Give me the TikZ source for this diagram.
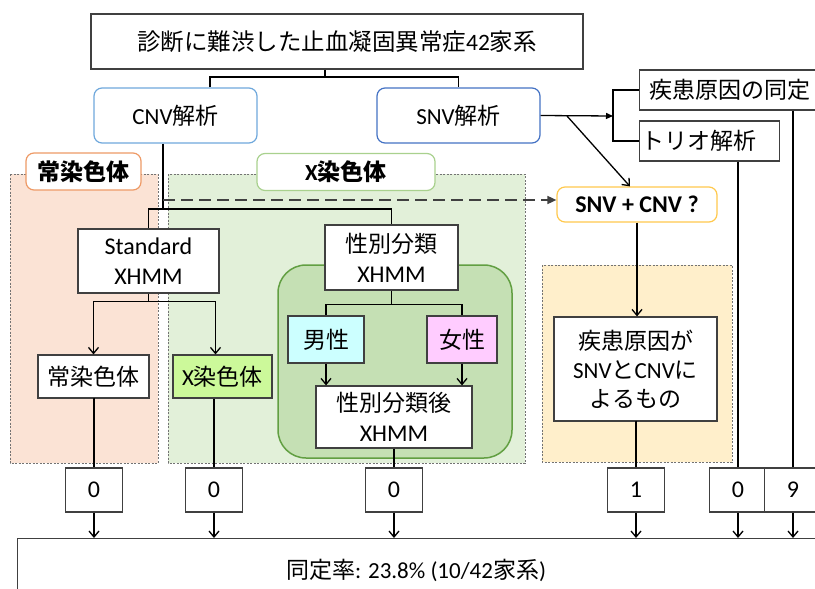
\documentclass[tikz,border=0pt]{standalone}
\usepackage{fontspec}
\setmainfont{Noto Sans CJK JP}
\newfontfamily\latf{Carlito}
\usetikzlibrary{arrows.meta,calc}
\definecolor{boxc}{HTML}{404040}
\definecolor{autofill}{HTML}{FBE3D5}
\definecolor{autoline}{HTML}{EE9A66}
\definecolor{xfill}{HTML}{E2F0D9}
\definecolor{xline}{HTML}{A9D18E}
\definecolor{greenfill}{HTML}{C5E0B4}
\definecolor{greenline}{HTML}{629F42}
\definecolor{yelfill}{HTML}{FFEFCB}
\definecolor{yelline}{HTML}{FFC94D}
\definecolor{cnvline}{HTML}{6FA8DC}
\definecolor{snvline}{HTML}{4472C4}
\definecolor{xinfill}{HTML}{CCF99A}
\definecolor{malefill}{HTML}{CCFFFF}
\definecolor{femfill}{HTML}{FFCCFF}
\newcommand{\fsz}{\fontsize{23}{30}\selectfont}
\begin{document}
\begin{tikzpicture}[x=1pt,y=-1pt,
  box/.style={draw=boxc, line width=1.2pt, fill=white, inner sep=0pt, align=center, font=\fsz},
  rbox/.style={box, rounded corners=8pt},
  region/.style={draw=black!55, line width=0.8pt, dash pattern=on 2pt off 1.5pt},
  conn/.style={draw=black, line width=1.3pt},
  barb/.style={conn, -{Straight Barb[length=6pt,width=10pt,line width=1.3pt]}},
  tri/.style={conn, -{Triangle[length=7pt,width=6pt]}},
  dasharr/.style={draw=boxc, line width=1.6pt, dash pattern=on 12pt off 6pt, -{Triangle[length=9pt,width=8pt]}},
  numbox/.style={box, minimum width=57pt, minimum height=44pt, font=\fontsize{24}{28}\selectfont\latf},
]
\useasboundingbox (0,0) rectangle (815,589);
\clip (0,0) rectangle (815,589);
\fill[white] (0,0) rectangle (815,589);

% background regions
\filldraw[region, fill=autofill] (10,174) rectangle (158,463);
\filldraw[region, fill=xfill] (168,174) rectangle (525,463);
\filldraw[region, fill=yelfill] (542,265) rectangle (732,462);
\filldraw[draw=greenline, line width=1.5pt, fill=greenfill, rounded corners=28pt] (278,265) rectangle (512,458);

% region labels
\node[rbox, draw=autoline, minimum width=115pt, minimum height=37pt, font=\fsz\bfseries] (autolab) at (83.5,171.5) {常染色体};
\node[rbox, draw=xline, minimum width=178pt, minimum height=37pt, font=\fsz\bfseries] (xlab) at (346,172) {{\latf X}染色体};

% nodes
\node[box, minimum width=492pt, minimum height=55pt, font=\fontsize{23.5}{28}\selectfont] (top) at (337,41.5) {診断に難渋した止血凝固異常症{\latf 42}家系};
\node[rbox, draw=cnvline, minimum width=163pt, minimum height=55pt] (cnv) at (175.5,115.5) {{\fontsize{23}{26}\selectfont\latf CNV}解析};
\node[rbox, draw=snvline, minimum width=163pt, minimum height=55pt] (snv) at (458.5,115.5) {{\fontsize{23}{26}\selectfont\latf SNV}解析};
\node[box, anchor=west, minimum width=270pt, minimum height=40pt, text width=250pt, align=left, inner xsep=10pt] (cause) at (639,90) {疾患原因の同定};
\node[box, anchor=west, minimum width=140pt, minimum height=40pt, text width=136pt, align=left, inner xsep=2pt] (trio) at (639,141) {トリオ解析};
\node[rbox, draw=yelline, line width=1.2pt, minimum width=160pt, minimum height=35pt, font=\fontsize{24}{28}\selectfont\latf\bfseries] (snvcnv) at (637,204.5) {SNV + CNV ?};

\node[box, minimum width=141pt, minimum height=64pt, font=\fontsize{24}{30}\selectfont\latf] (std) at (148.5,261) {Standard\\XHMM};
\node[box, minimum width=133pt, minimum height=65pt] (sexcls) at (391.5,257.5) {性別分類\\{\fontsize{24}{30}\selectfont\latf XHMM}};
\node[box, minimum width=111pt, minimum height=43pt] (auto) at (93.5,376.5) {常染色体};
\node[box, fill=xinfill, minimum width=99pt, minimum height=43pt] (xin) at (222.5,376.5) {{\latf X}染色体};
\node[box, fill=malefill, minimum width=76pt, minimum height=47pt] (male) at (326,339.5) {男性};
\node[box, fill=femfill, minimum width=70pt, minimum height=47pt] (female) at (462,339.5) {女性};
\node[box, minimum width=156pt, minimum height=62pt] (after) at (394,417) {性別分類後\\{\fontsize{24}{30}\selectfont\latf XHMM}};
\node[box, minimum width=163pt, minimum height=104pt, font=\fontsize{23}{29}\selectfont] (causebox) at (635.5,369) {疾患原因が\\{\latf SNV}と{\latf CNV}に\\よるもの};

\node[numbox] (n1) at (94,490) {0};
\node[numbox] (n2) at (214,490) {0};
\node[numbox] (n3) at (394,490) {0};
\node[numbox] (n4) at (636,490) {1};
\node[numbox] (n5) at (738,490) {0};
\node[numbox] (n6) at (793,490) {9};

\node[box, anchor=north west, minimum width=900pt, minimum height=100pt] (bottom) at (17,538) {};
\node[font=\fontsize{23}{28}\selectfont, inner sep=0pt] (rate) at (416,570) {同定率{\latf : 23.8\% (10/42}家系{\latf )}};

% connectors
\coordinate (j1) at (325,77);
\coordinate (c1) at (210,77);
\draw[conn] (top.south -| j1) -- (j1);
\draw[conn] (cnv.north -| c1) |- (snv.north |- c1) -- (snv.north);

\coordinate (br) at (613,116);
\coordinate (dg) at (567,116);
\draw[tri] (snv.east) -- (br);
\draw[conn] (cause.west) -| (br) |- (trio.west);
\draw[barb] (dg) -- ([xshift=-7pt]snvcnv.north);

\coordinate (cv) at (163,209);
\draw[conn] (cnv.south -| cv) -- (cv);
\draw[conn] (std.north) |- (sexcls.north |- cv) -- (sexcls.north);
\coordinate (d0) at (163,200);
\draw[dasharr] (d0) -- (d0 -| snvcnv.west);

\draw[conn] (std.south) -- ++(0,8) coordinate (s1);
\draw[barb] (s1) -| (auto.north);
\draw[barb] (s1) -| ([xshift=-7pt]xin.north);

\draw[conn] (sexcls.south) -- ++(0,14) coordinate (g1);
\draw[conn] (g1) -| (male.north);
\draw[conn] (g1) -| (female.north);
\draw[barb] (male.south) -- (male.south |- after.north);
\draw[barb] (female.south) -- (female.south |- after.north);

\draw[barb] (snvcnv.south) -- (snvcnv.south |- causebox.north);

\draw[conn] (auto.south) -- (auto.south -| n1.north) -- (n1.north);
\draw[conn] (n2.north |- xin.south) -- (n2.north);
\draw[conn] (after.south) -- (n3.north);
\draw[conn] (causebox.south) -- (causebox.south -| n4.north) -- (n4.north);
\draw[conn] (n5.north |- trio.south) -- (n5.north);
\draw[conn] (n6.north |- cause.south) -- (n6.north);

\foreach \n in {n1,n2,n3,n4,n5,n6}
  \draw[barb] (\n.south) -- (\n.south |- bottom.north);
\end{tikzpicture}
\end{document}
